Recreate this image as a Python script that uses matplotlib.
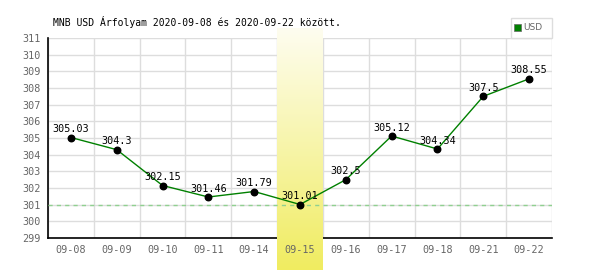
import numpy as np
import matplotlib.pyplot as plt
from matplotlib.colors import LinearSegmentedColormap
from matplotlib.patches import Rectangle

dates = ["09-08", "09-09", "09-10", "09-11", "09-14", "09-15",
         "09-16", "09-17", "09-18", "09-21", "09-22"]
rates = [305.03, 304.3, 302.15, 301.46, 301.79, 301.01,
         302.5, 305.12, 304.34, 307.5, 308.55]
labels = ["305.03", "304.3", "302.15", "301.46", "301.79", "301.01",
          "302.5", "305.12", "304.34", "307.5", "308.55"]
highlight = "09-15"
y_ticks = list(range(299, 312))
title = "MNB USD Árfolyam 2020-09-08 és 2020-09-22 között."

mono = "DejaVu Sans Mono"
W, H = 600, 270
fig = plt.figure(figsize=(6, 2.7), dpi=100, facecolor="white")
ax = fig.add_axes([48 / W, 1 - 238 / H, 504 / W, 200 / H])
ax.set_facecolor("white")

x = np.arange(len(dates))
ax.set_xlim(-0.5, len(dates) - 0.5)
ax.set_ylim(299, 311)

# grid: horizontal at every unit, vertical at category boundaries
for v in y_ticks:
    ax.axhline(v, color="#dddddd", lw=1, zorder=0.5)
for b in np.arange(len(dates) + 1) - 0.5:
    ax.axvline(b, color="#dddddd", lw=1, zorder=0.5)

# highlighted day, yellow gradient running past the axis
hi = dates.index(highlight)
cmap = LinearSegmentedColormap.from_list("hl", ["#fefdf0", "#f0ec60"])
grad = np.linspace(0, 1, 256).reshape(-1, 1)
unit = 200 / 12
ax.imshow(grad, cmap=cmap, aspect="auto", origin="upper",
          extent=(hi - 0.5, hi + 0.5, 299 - 32 / unit, 311 + 10 / unit),
          zorder=3, clip_on=False)

ax.axhline(min(rates), color="#90d090", lw=1, ls=(0, (3, 3)), zorder=3.5)
ax.plot(x, rates, color="#008000", lw=1, zorder=4)
ax.scatter(x, rates, s=22, color="black", zorder=5)
for xi, yi, t in zip(x, rates, labels):
    ax.annotate(t, (xi, yi), xytext=(0, 2.5), textcoords="offset points",
                ha="center", va="bottom", fontsize=7.3, family=mono,
                color="black", zorder=6)

ax.set_xticks(x)
ax.set_xticklabels(dates, family=mono, fontsize=7.3, color="#666666")
ax.set_yticks(y_ticks)
ax.set_yticklabels([str(v) for v in y_ticks], family=mono, fontsize=7.3,
                   color="#666666")
ax.tick_params(length=0, pad=5)
ax.xaxis.set_zorder(6)
for s in ["top", "right"]:
    ax.spines[s].set_visible(False)
for s in ["left", "bottom"]:
    ax.spines[s].set_color("black")
    ax.spines[s].set_linewidth(1.2)

fig.text(53 / W, 1 - 22 / H, title, family=mono, fontsize=7.0,
         ha="left", va="center", color="black")

# legend box
fig.patches.append(Rectangle((511 / W, 1 - 38 / H), 41 / W, 20 / H,
                             transform=fig.transFigure, facecolor="white",
                             edgecolor="#dddddd", lw=1))
fig.patches.append(Rectangle((514 / W, 1 - 31 / H), 7 / W, 7 / H,
                             transform=fig.transFigure, facecolor="#008000",
                             edgecolor="#666666", lw=0.5))
fig.text(523 / W, 1 - 27.5 / H, "USD", fontsize=6.5, color="#666666",
         ha="left", va="center")

fig.savefig("out.png", dpi=100)
